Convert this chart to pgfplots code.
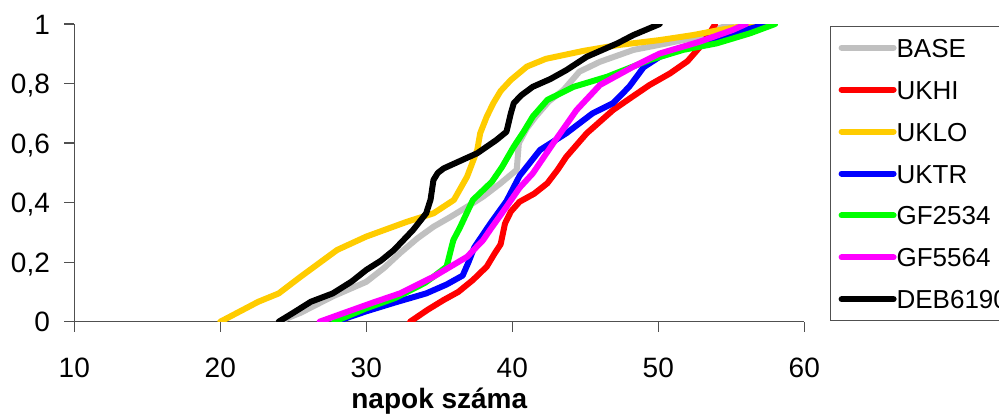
\documentclass[border=0pt]{standalone}
\usepackage{fontspec}
\setmainfont{Liberation Sans}
\usepackage{pgfplots}
\pgfplotsset{compat=1.18}
\definecolor{cBase}{HTML}{C0C0C0}
\definecolor{cHi}{HTML}{FF0000}
\definecolor{cLo}{HTML}{FFCC00}
\definecolor{cTr}{HTML}{0000FF}
\definecolor{cG1}{HTML}{00FF00}
\definecolor{cG2}{HTML}{FF00FF}
\definecolor{cAx}{HTML}{505050}
\begin{document}
\begin{tikzpicture}
\begin{axis}[
  at={(37.15pt,46.15pt)}, anchor=south west,
  scale only axis, width=365pt, height=148.85pt,
  xmin=10, xmax=60, ymin=0, ymax=1,
  axis x line=bottom, axis y line=left,
  axis line style={-, color=cAx, line width=0.6pt},
  xtick={10,20,30,40,50,60},
  ytick={0,0.2,0.4,0.6,0.8,1},
  yticklabels={0,{0,2},{0,4},{0,6},{0,8},1},
  tick align=outside, major tick length=5pt,
  tick style={color=cAx, line width=0.6pt},
  /pgf/number format/assume math mode=true,
  every tick label/.append style={font=\fontsize{14}{16}\selectfont},
  xticklabel style={anchor=north, inner sep=0pt, text height=10pt, text depth=0pt},
  xticklabel shift=12.7pt,
  yticklabel style={anchor=east, inner sep=0pt, text height=10pt, text depth=0pt},
  yticklabel shift=7pt,
  xlabel={napok száma},
  xlabel style={at={(axis description cs:0.5,0)}, anchor=base, yshift=-43.15pt, inner sep=0pt, font=\fontsize{14}{16}\selectfont\bfseries},
  legend style={at={(1.0352,0.9943)}, anchor=north west, draw=cAx, line width=0.6pt,
    inner xsep=4pt, inner ysep=6pt, row sep=11.45pt,
    font=\fontsize{13}{15}\selectfont,
    nodes={inner sep=0pt, text height=9.5pt, text depth=0pt}},
  legend cell align=left,
  legend image code/.code={\draw[#1, line width=3pt, line cap=round] (0pt,0pt) -- (26pt,0pt);},
  every axis plot/.append style={line width=3pt, line join=round, line cap=round},
]
\addplot[cBase] coordinates {(24.0,0) (25.5,0.03) (27.7,0.085) (30.0,0.134) (31.2,0.18) (32.3,0.23) (33.5,0.28) (34.6,0.319) (35.7,0.35) (36.9,0.386) (38.0,0.42) (39.2,0.465) (40.3,0.51) (40.45,0.6) (41.0,0.65) (41.6,0.689) (42.5,0.74) (43.5,0.778) (44.6,0.84) (46.0,0.873) (48.3,0.913) (50.6,0.935) (52.8,0.957) (53.8,0.98) (55.0,1.0)};
\addlegendentry{BASE}
\addplot[cHi] coordinates {(33.0,0) (34.2,0.04) (35.3,0.073) (36.3,0.1) (37.3,0.14) (38.25,0.185) (38.8,0.23) (39.2,0.26) (39.5,0.33) (39.9,0.37) (40.5,0.403) (41.5,0.43) (42.4,0.465) (43.1,0.51) (43.7,0.554) (45.1,0.633) (46.9,0.711) (48.2,0.755) (49.4,0.795) (50.8,0.834) (52.0,0.875) (52.8,0.92) (53.4,0.96) (53.9,1.0)};
\addlegendentry{UKHI}
\addplot[cLo] coordinates {(20,0) (22.6,0.067) (24,0.095) (25.5,0.151) (28,0.241) (30,0.286) (32.8,0.336) (34.6,0.364) (36,0.409) (36.9,0.487) (37.6,0.577) (37.8,0.633) (38.25,0.689) (38.7,0.734) (39.2,0.775) (39.9,0.812) (41,0.857) (42.3,0.883) (44.9,0.910) (47.2,0.929) (50.1,0.946) (52.4,0.963) (54.2,0.980) (55.8,0.993) (57.5,1.0)};
\addlegendentry{UKLO}
\addplot[cTr] coordinates {(27.9,0) (30,0.035) (32,0.065) (34.1,0.095) (35.5,0.125) (36.6,0.155) (37.0,0.2) (37.4,0.25) (38.5,0.33) (39.6,0.405) (40.5,0.49) (41.9,0.577) (43.7,0.633) (45.5,0.700) (46.9,0.734) (48.0,0.789) (49.0,0.855) (50.1,0.890) (52.8,0.935) (55.1,0.969) (57.5,1.0)};
\addlegendentry{UKTR}
\addplot[cG1] coordinates {(27.8,0) (30,0.045) (32,0.08) (34.0,0.13) (34.6,0.151) (35.5,0.185) (35.96,0.274) (36.4,0.315) (37.3,0.409) (38.6,0.47) (39.3,0.52) (40.1,0.588) (40.8,0.64) (41.4,0.689) (42.4,0.745) (44.2,0.789) (46.5,0.823) (49.4,0.879) (51.7,0.913) (54,0.935) (56.3,0.969) (58.0,1.0)};
\addlegendentry{GF2534}
\addplot[cG2] coordinates {(26.8,0) (28.5,0.03) (30.5,0.065) (32.3,0.095) (34.6,0.151) (36.9,0.218) (38.0,0.274) (38.5,0.31) (39.6,0.386) (40.5,0.45) (41.4,0.498) (42.8,0.599) (44.4,0.711) (46.0,0.795) (48.3,0.857) (50.1,0.901) (52.8,0.94) (55.1,0.98) (56.0,1.0)};
\addlegendentry{GF5564}
\addplot[black] coordinates {(24.0,0) (25.0,0.03) (26.2,0.067) (27.7,0.095) (29,0.135) (30.0,0.174) (31.0,0.205) (31.9,0.241) (33.2,0.308) (34.1,0.364) (34.4,0.41) (34.6,0.476) (34.9,0.5) (35.3,0.515) (36.2,0.535) (37.6,0.566) (38.9,0.61) (39.6,0.638) (39.9,0.7) (40.1,0.734) (40.6,0.76) (41.4,0.789) (42.6,0.815) (43.7,0.845) (45.1,0.89) (47.2,0.935) (48.3,0.963) (50.1,1.0)};
\addlegendentry{DEB6190}
\end{axis}
\pgfresetboundingbox
\path[use as bounding box] (0,0) rectangle (499.5pt,207pt);
\end{tikzpicture}
\end{document}
